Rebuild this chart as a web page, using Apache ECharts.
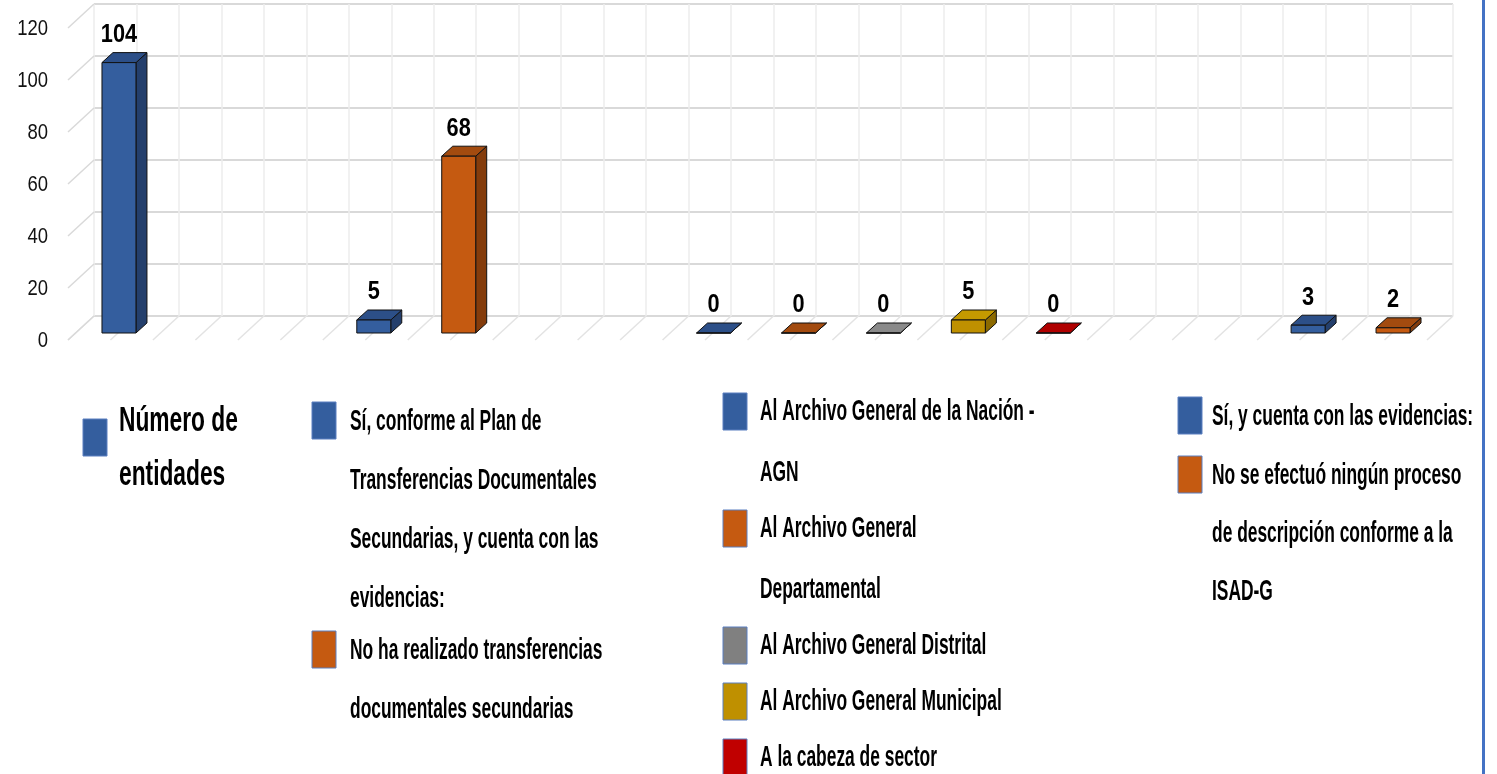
<!DOCTYPE html>
<html>
<head>
<meta charset="utf-8">
<title>Transferencias documentales</title>
<script src="https://cdn.jsdelivr.net/npm/echarts@6/dist/echarts.min.js"></script>
<style>
  html, body { margin: 0; padding: 0; background: #fff; }
  #chart { width: 1497px; height: 774px; }
</style>
</head>
<body>
<div id="chart"></div>
<script>
// 16 positions along the floor, only some of them hold a bar
const slots = ['', '', '', '', '', '', '', '', '', '', '', '', '', '', '', ''];
const yTicks = [0, 20, 40, 60, 80, 100, 120];

const seriesNames = [
  'Número de entidades',
  'Sí, conforme al Plan de Transferencias Documentales Secundarias, y cuenta con las evidencias:',
  'No ha realizado transferencias documentales secundarias',
  'Al Archivo General de la Nación - AGN',
  'Al Archivo General Departamental',
  'Al Archivo General Distrital',
  'Al Archivo General Municipal',
  'A la cabeza de sector',
  'Sí, y cuenta con las evidencias:',
  'No se efectuó ningún proceso de descripción conforme a la ISAD-G'
];
const seriesSlots = [0, 3, 4, 7, 8, 9, 10, 11, 14, 15];
const seriesValues = [104, 5, 68, 0, 0, 0, 5, 0, 3, 2];
const seriesColors = ['blue', 'blue', 'orange', 'blue', 'orange', 'gray', 'gold', 'red', 'blue', 'orange'];

// legend text, wrapped as in the picture, and the column each entry sits in
const legendLines = [
  ['Número de', 'entidades'],
  ['Sí, conforme al Plan de', 'Transferencias Documentales', 'Secundarias, y cuenta con las', 'evidencias:'],
  ['No ha realizado transferencias', 'documentales secundarias'],
  ['Al Archivo General de la Nación -', 'AGN'],
  ['Al Archivo General', 'Departamental'],
  ['Al Archivo General Distrital'],
  ['Al Archivo General Municipal'],
  ['A la cabeza de sector'],
  ['Sí, y cuenta con las evidencias:'],
  ['No se efectuó ningún proceso', 'de descripción conforme a la', 'ISAD-G']
];
const legendGroups = [[0], [1, 2], [3, 4, 5, 6, 7], [8, 9]];

// face colours of the 3D boxes
const palette = {
  blue:   { front: '#345e9e', side: '#243f6c', top: '#2c4f88' },
  orange: { front: '#c55a11', side: '#843c0c', top: '#a34b0f' },
  gray:   { front: '#808080', side: '#5c5c5c', top: '#8a8a8a' },
  gold:   { front: '#bf9000', side: '#8c6a00', top: '#c59a00' },
  red:    { front: '#c00000', side: '#8a0000', top: '#b00000' }
};

// 3D look: offsets from the front plane (pixels)
const WALL = [26, -24];      // back wall
const BAR_SHIFT = [8.5, -7]; // front face of the boxes
const BAR_DEPTH = [11, -10]; // depth of a box

const FONT = '"Liberation Sans", Arial, sans-serif';
const legendLayout = [
  { iconX: 83,   textX: 119,  first: 433, pitch: 54, gap: 54, size: 35, sx: 0.65, iconDy: -14 },
  { iconX: 312,  textX: 350,  first: 432, pitch: 59, gap: 52, size: 30, sx: 0.58, iconDy: -30 },
  { iconX: 723,  textX: 760,  first: 422, pitch: 61, gap: 56, size: 30, sx: 0.58, iconDy: -29 },
  { iconX: 1178, textX: 1212, first: 427, pitch: 58, gap: 59, size: 30, sx: 0.58, iconDy: -30 }
];

function renderBox (params, api) {
  const slot = api.value(0)
  const val = api.value(1)
  const base = api.coord([slot, 0])
  const top = api.coord([slot, val])
  const w = api.size([1, 0])[0] * 0.4
  const x0 = base[0] + BAR_SHIFT[0] - w / 2
  const x1 = x0 + w
  const yb = base[1] + BAR_SHIFT[1]
  const yt = top[1] + BAR_SHIFT[1]
  const dx = BAR_DEPTH[0]
  const dy = BAR_DEPTH[1]
  const col = palette[seriesColors[params.seriesIndex - 2]]
  const edge = { stroke: '#111', lineWidth: 1, lineJoin: 'round' }
  return {
    type: 'group',
    children: [
      {
        type: 'polygon',
        shape: { points: [[x1, yb], [x1 + dx, yb + dy], [x1 + dx, yt + dy], [x1, yt]] },
        style: Object.assign({ fill: col.side }, edge)
      },
      {
        type: 'polygon',
        shape: { points: [[x0, yt], [x1, yt], [x1 + dx, yt + dy], [x0 + dx, yt + dy]] },
        style: Object.assign({ fill: col.top }, edge)
      },
      {
        type: 'rect',
        shape: { x: x0, y: yt, width: w, height: yb - yt },
        style: Object.assign({ fill: col.front }, edge)
      },
      {
        type: 'text',
        x: (x0 + x1) / 2,
        y: yt + dy - 5,
        scaleX: 0.87,
        style: {
          text: String(val),
          fill: '#000',
          font: 'bold 25px ' + FONT,
          align: 'center',
          verticalAlign: 'bottom'
        }
      }
    ]
  }
}

// floor lines at every half slot and the left wall lines at each tick
const halfSlots = []
for (let k = 0; k <= slots.length * 2; k++) halfSlots.push([k, 0])

const series = [
  {
    type: 'custom',
    name: 'floor',
    xAxisIndex: 1,
    yAxisIndex: 0,
    silent: true,
    z: 1,
    data: halfSlots,
    renderItem: (params, api) => {
      const p = api.coord([api.value(0), 0])
      return {
        type: 'line',
        shape: { x1: p[0], y1: p[1], x2: p[0] + WALL[0], y2: p[1] + WALL[1] },
        style: { stroke: '#e3e3e3', lineWidth: 1.5 }
      }
    }
  },
  {
    // left wall lines plus the value labels (narrowed like the picture's font)
    type: 'custom',
    name: 'sidewall',
    xAxisIndex: 1,
    yAxisIndex: 0,
    silent: true,
    z: 1,
    data: yTicks.map(v => [0, v]),
    renderItem: (params, api) => {
      const v = api.value(1)
      const p = api.coord([0, v])
      return {
        type: 'group',
        children: [
          {
            type: 'line',
            shape: { x1: p[0], y1: p[1], x2: p[0] + WALL[0], y2: p[1] + WALL[1] },
            style: { stroke: '#d9d9d9', lineWidth: 1.5 }
          },
          {
            type: 'text',
            x: p[0] - 20,
            y: p[1] + 1,
            scaleX: 0.84,
            style: {
              text: String(v),
              fill: '#111',
              font: '22px ' + FONT,
              align: 'right',
              verticalAlign: 'middle'
            }
          }
        ]
      }
    }
  }
]

seriesNames.forEach((name, i) => {
  series.push({
    type: 'custom',
    name: name,
    xAxisIndex: 0,
    yAxisIndex: 0,
    z: 3,
    color: palette[seriesColors[i]].front,
    data: [[seriesSlots[i], seriesValues[i]]],
    renderItem: renderBox
  })
})

// legend drawn as boxes and wrapped text, one column per group
const legendItems = []
legendGroups.forEach((group, g) => {
  const lay = legendLayout[g]
  let baseline = lay.first
  group.forEach((idx, n) => {
    if (n > 0) baseline += lay.gap
    legendItems.push({
      type: 'rect',
      shape: { x: lay.iconX, y: baseline + lay.iconDy, width: 24, height: 37 },
      style: { fill: palette[seriesColors[idx]].front, stroke: '#5b7fc0', lineWidth: 1 }
    })
    legendLines[idx].forEach((line, l) => {
      if (l > 0) baseline += lay.pitch
      legendItems.push({
        type: 'text',
        x: lay.textX,
        y: baseline - lay.size * 0.34,
        scaleX: lay.sx,
        style: {
          text: line,
          fill: '#000',
          font: 'bold ' + lay.size + 'px ' + FONT,
          verticalAlign: 'middle'
        }
      })
    })
  })
})
legendItems.push({
  type: 'rect',
  shape: { x: 1482, y: 0, width: 3, height: 774 },
  style: { fill: '#4472c4' }
})

const chart = echarts.init(document.getElementById('chart'))
chart.setOption({
  backgroundColor: '#fff',
  animation: false,
  grid: [
    { left: 68, right: 70, top: 28, bottom: 434 },
    { left: 94, right: 44, top: 4, bottom: 458 }
  ],
  xAxis: [
    { type: 'category', gridIndex: 0, data: slots, show: false },
    { type: 'value', gridIndex: 0, min: 0, max: slots.length * 2, show: false },
    {
      type: 'value',
      gridIndex: 1,
      min: 0,
      max: slots.length * 2,
      interval: 1,
      axisLine: { show: false },
      axisTick: { show: false },
      axisLabel: { show: false },
      splitLine: { show: true, lineStyle: { color: '#ececec', width: 1.5 } }
    }
  ],
  yAxis: [
    {
      type: 'value',
      gridIndex: 0,
      min: 0,
      max: 120,
      interval: 20,
      axisLine: { show: false },
      axisTick: { show: false },
      splitLine: { show: false },
      axisLabel: { show: false }
    },
    {
      type: 'value',
      gridIndex: 1,
      min: 0,
      max: 120,
      interval: 20,
      axisLine: { show: false },
      axisTick: { show: false },
      axisLabel: { show: false },
      splitLine: { show: true, lineStyle: { color: '#d9d9d9', width: 2 } }
    }
  ],
  graphic: legendItems,
  series: series
})
</script>
</body>
</html>
